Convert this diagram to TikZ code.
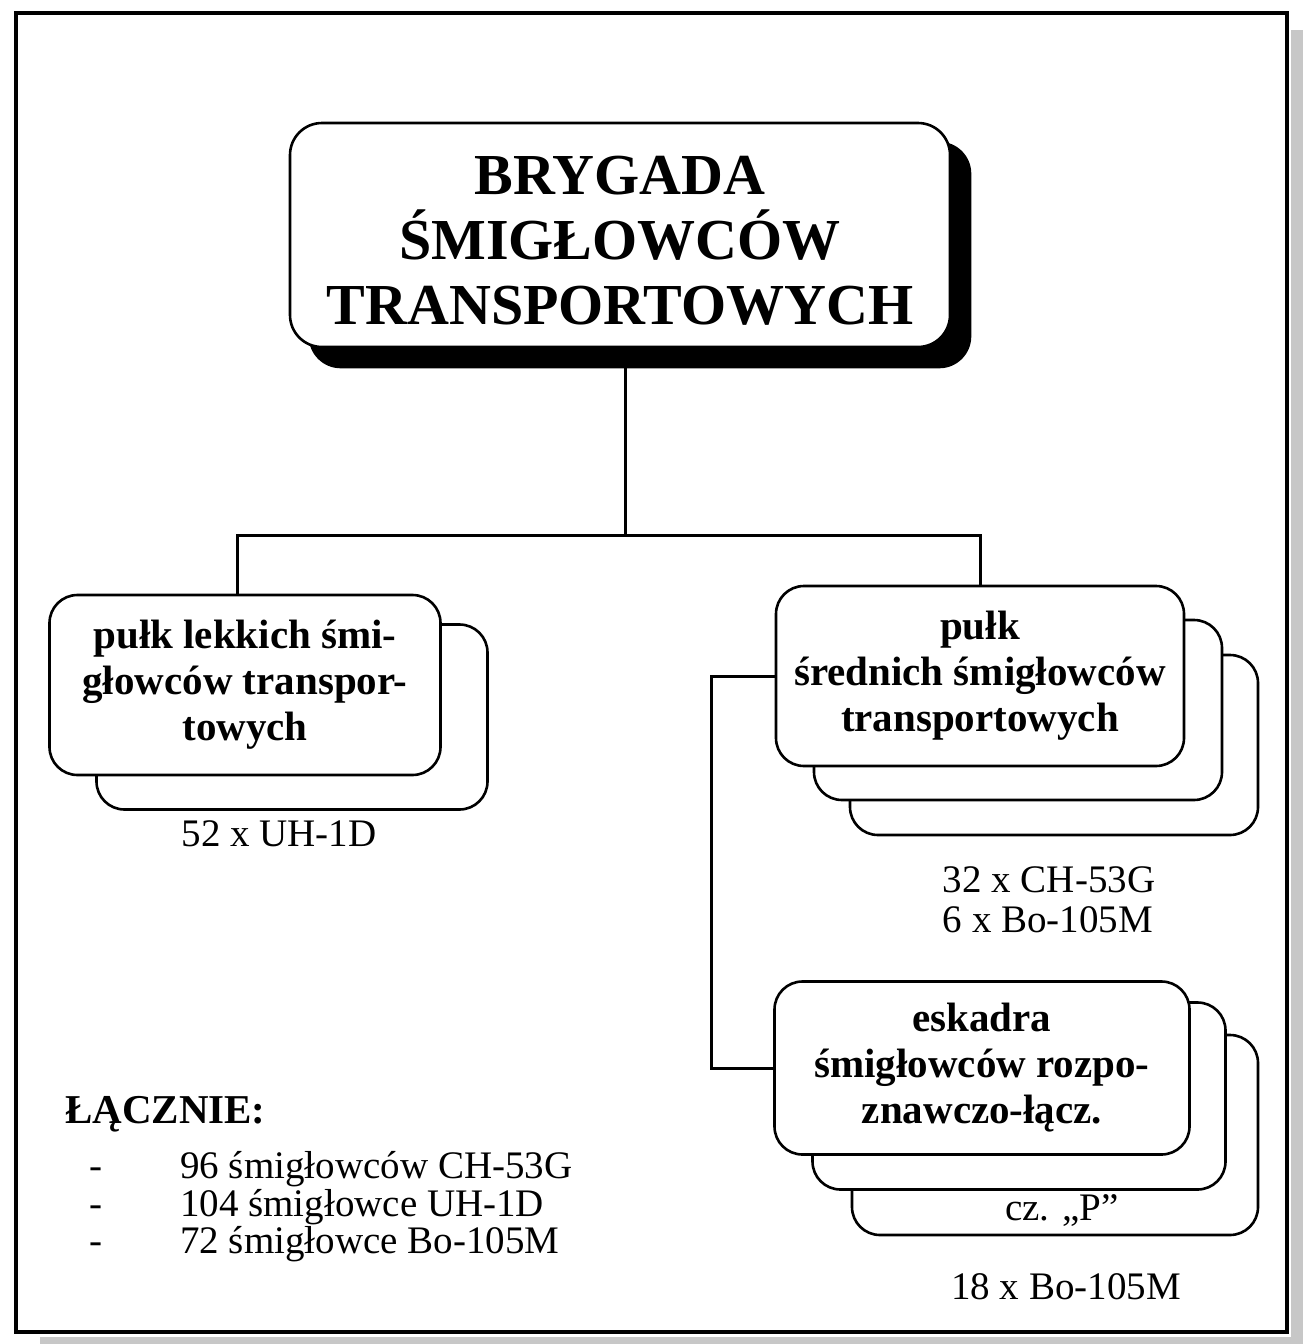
\documentclass[tikz,border=0pt]{standalone}
\usepackage{fontspec}
\setmainfont{Liberation Serif}
\usetikzlibrary{positioning,backgrounds}

\begin{document}
\begin{tikzpicture}[x=1pt, y=1pt,
  font=\fontsize{39}{46}\selectfont,
  card/.style={draw=black, line width=2.6pt, rounded corners=28pt, fill=white,
               align=center, inner sep=0pt, minimum width=408pt, minimum height=180pt},
  unit/.style={card, font=\fontsize{41}{46}\selectfont\bfseries},
  head/.style={card, rounded corners=32pt, minimum width=660pt, minimum height=224pt,
               font=\fontsize{58}{65}\selectfont\bfseries},
  cnt/.style={align=left, inner sep=0pt},
  link/.style={line width=3pt}]

\useasboundingbox (0,0) rectangle (1303,-1344);
\fill[black!22] (1291,-30) rectangle (1303,-1344);
\fill[black!22] (40,-1337) rectangle (1303,-1344);
\draw[line width=4.5pt] (16,-13) rectangle (1287,-1332);

\node[head] (bryg) at (620,-235) {\rule{0pt}{50pt}BRYGADA\\ŚMIGŁOWCÓW\\TRANSPORTOWYCH};

\node[unit, minimum width=391pt] (lpk) at (245,-685)
  {pułk lekkich śmi-\\głowców transpor-\\towych};
\node[unit] (spk) at (980,-676)
  {pułk\\średnich śmigłowców\\transportowych};
\node[unit, minimum width=415pt, minimum height=173pt] (esk) at (982,-1068)
  {eskadra\\śmigłowców rozpo-\\znawczo-łącz.};

\begin{scope}[on background layer]
  \fill[rounded corners=32pt] ([shift={(20,-20)}]bryg.south west)
    rectangle ([shift={(20,-20)}]bryg.north east);
  \node[card, minimum width=391pt, minimum height=185pt] (lpkb) at ([shift={(47,-32)}]lpk.center) {};
  \node[card] (spkc) at ([shift={(74,-69)}]spk.center) {};
  \node[card] (spkb) at ([shift={(38,-34)}]spk.center) {};
  \node[card, minimum width=406pt, minimum height=200pt] (eskc) at ([shift={(73,-67)}]esk.center) {};
  \node[card, minimum width=413pt, minimum height=187pt] (eskb) at ([shift={(37,-28)}]esk.center) {};
\end{scope}

\node[cnt, below=10pt of lpkb, xshift=-13pt] (lpkn) {52 x UH-1D};
\node[cnt, below=30pt of spkc, xshift=-5pt] (spkn) {32 x CH-53G\\[-6pt]6 x Bo-105M};
\node[cnt, above=10pt of eskc.south, xshift=7pt] (eskp) {cz. „P”};
\node[cnt, below=37pt of eskc, xshift=11pt] (eskn) {18 x Bo-105M};

\node[cnt, anchor=base west] (sum) at (65,-1123) {\fontsize{41}{46}\selectfont\bfseries ŁĄCZNIE:};
\foreach \n/\t/\y in {a/96 śmigłowców CH-53G/1178, b/104 śmigłowce UH-1D/1216,
                      c/72 śmigłowce Bo-105M/1253}{
  \node[cnt, anchor=base west] (dash\n) at (89,-\y) {-};
  \node[cnt, anchor=base west] (sum\n) at (180,-\y) {\t};
}

\coordinate (hub) at (625,-535);
\draw[link] (bryg.south -| hub) -- (hub);
\draw[link] ([xshift=-8pt]lpk.north) |- (hub) -| (spk.north);
\draw[link] (spk.west) -- ++(-63,0) |- (esk.west);

\end{tikzpicture}
\end{document}
